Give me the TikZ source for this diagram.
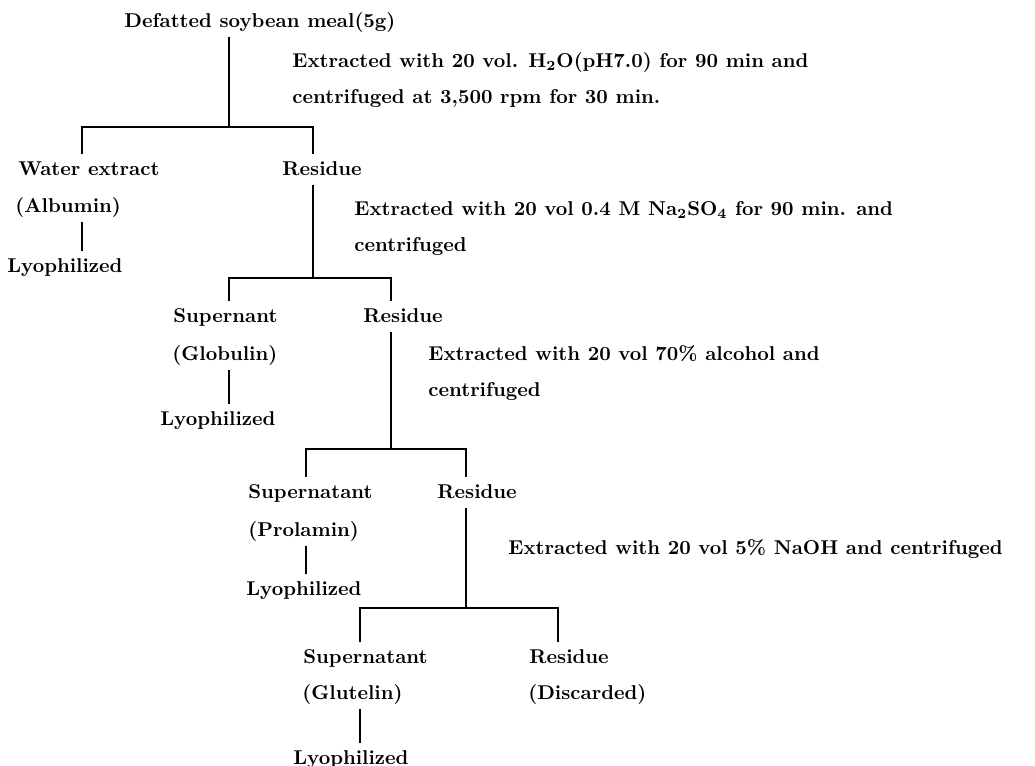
\documentclass[tikz,border=0pt]{standalone}
\usepackage{tikz}

\begin{document}
\begin{tikzpicture}[x=0.5pt,y=-0.5pt]
		\tikzstyle{fraction}=[anchor=base west,inner xsep=0pt,inner ysep=3pt,text height=7.5pt,text depth=2pt,font=\bfseries]
		\tikzstyle{operation}=[anchor=west,inner sep=0pt,align=left,font=\bfseries]
		\tikzstyle{trait}=[line width=0.8pt]
		\useasboundingbox (0,0) rectangle (1035,766);
		\node[fraction] (M) at (124,27){Defatted soybean meal(5g)};
		\node[operation] (O1) at (292,80){Extracted with 20 vol. H\textsubscript{2}O(pH7.0) for 90 min and\\[6pt]centrifuged at 3,500 rpm for 30 min.};
		\coordinate (B1) at (229,127);
		\coordinate (B1g) at (82,127);
		\coordinate (B1d) at (313,127);
		\node[fraction] (W) at (18,175){Water extract};
		\node[fraction] (A) at (15,212){(Albumin)};
		\node[fraction] (L1) at (7,272){Lyophilized};
		\node[fraction] (R1) at (282,175){Residue};
		\node[operation] (O2) at (354,229){Extracted with 20 vol 0.4 M Na\textsubscript{2}SO\textsubscript{4} for 90 min. and\\[6pt]centrifuged};
		\coordinate (B2g) at (229,278);
		\coordinate (B2d) at (391,278);
		\node[fraction] (S2) at (173,322){Supernant};
		\node[fraction] (G) at (172,360){(Globulin)};
		\node[fraction] (L2) at (160,425){Lyophilized};
		\node[fraction] (R2) at (363,322){Residue};
		\node[operation] (O3) at (428,373){Extracted with 20 vol 70\% alcohol and\\[6pt]centrifuged};
		\coordinate (B3g) at (306,449);
		\coordinate (B3d) at (466,449);
		\node[fraction] (S3) at (248,498){Supernatant};
		\node[fraction] (P) at (248,536){(Prolamin)};
		\node[fraction] (L3) at (246,595){Lyophilized};
		\node[fraction] (R3) at (437,498){Residue};
		\node[operation] (O4) at (508,549){Extracted with 20 vol 5\% NaOH and centrifuged};
		\coordinate (B4g) at (360,608);
		\coordinate (B4d) at (558,608);
		\node[fraction] (S4) at (303,663){Supernatant};
		\node[fraction] (GL) at (302,699){(Glutelin)};
		\node[fraction] (L4) at (293,764){Lyophilized};
		\node[fraction] (R4) at (529,663){Residue};
		\node[fraction] (D) at (528,699){(Discarded)};

		\draw[trait] (M.south -| B1)--(B1);
		\draw[trait] (W.north -| B1g)--(B1g)--(B1d)--(R1.north -| B1d);
		\draw[trait] (A.south -| B1g)--(L1.north -| B1g);
		\draw[trait] (R1.south -| B1d)--(B2g -| B1d);
		\draw[trait] (S2.north -| B2g)--(B2g)--(B2d)--(R2.north -| B2d);
		\draw[trait] (G.south -| B2g)--(L2.north -| B2g);
		\draw[trait] (R2.south -| B2d)--(B3g -| B2d);
		\draw[trait] (S3.north -| B3g)--(B3g)--(B3d)--(R3.north -| B3d);
		\draw[trait] (P.south -| B3g)--(L3.north -| B3g);
		\draw[trait] (R3.south -| B3d)--(B4g -| B3d);
		\draw[trait] (S4.north -| B4g)--(B4g)--(B4d)--(R4.north -| B4d);
		\draw[trait] (GL.south -| B4g)--(L4.north -| B4g);

	\end{tikzpicture}
\end{document}
